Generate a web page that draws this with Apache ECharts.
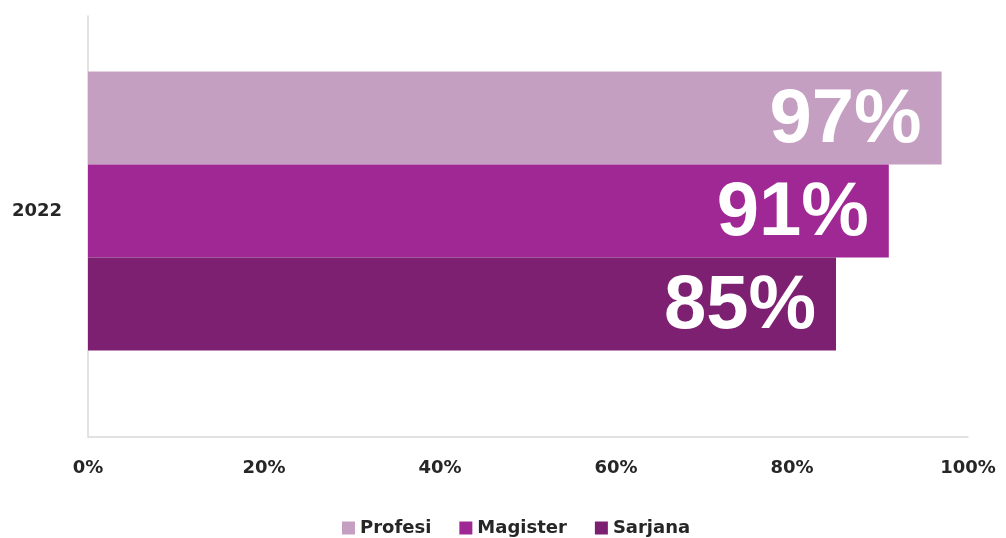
<!DOCTYPE html>
<html>
<head>
<meta charset="utf-8">
<script src="https://cdn.jsdelivr.net/npm/echarts@6/dist/echarts.min.js"></script>
<style>
  html, body { margin: 0; padding: 0; background: #fff; }
  #chart { width: 1006px; height: 538px; }
</style>
</head>
<body>
<div id="chart"></div>
<script>
const categories = ['2022']
const seriesNames = ['Profesi', 'Magister', 'Sarjana']
const profesi = [97]
const magister = [91]
const sarjana = [85]
const xTicks = [0, 20, 40, 60, 80, 100]
const colors = ['#c59fc2', '#a02894', '#7e2071']

const chart = echarts.init(document.getElementById('chart'))

const labelFont = 'DejaVu Sans'
const axisColor = '#d9d9d9'

const option = {
  animation: false,
  color: colors,
  legend: {
    data: seriesNames,
    left: 337,
    top: 514,
    itemWidth: 13,
    itemHeight: 13,
    itemGap: 28,
    icon: 'rect',
    textStyle: { fontFamily: labelFont, fontWeight: 'bold', fontSize: 18, color: '#262626' },
  },
  grid: [
    // bars (band centred a bit above the frame centre, like the original)
    { left: 88, right: 38, top: 0, bottom: 116 },
    // frame: both axis lines and the tick labels
    { left: 88, right: 38, top: 16, bottom: 101 },
  ],
  xAxis: [
    { type: 'value', gridIndex: 0, min: xTicks[0], max: xTicks[xTicks.length - 1], show: false },
    {
      type: 'value',
      gridIndex: 1,
      min: xTicks[0],
      max: xTicks[xTicks.length - 1],
      interval: xTicks[1] - xTicks[0],
      axisLine: { show: true, lineStyle: { color: axisColor, width: 1.5 } },
      axisTick: { show: false },
      splitLine: { show: false },
      axisLabel: {
        formatter: '{value}%',
        margin: 22,
        fontFamily: labelFont,
        fontWeight: 'bold',
        fontSize: 18,
        color: '#262626',
      },
    },
  ],
  yAxis: [
    {
      type: 'category',
      gridIndex: 0,
      inverse: true,
      data: categories,
      axisLine: { show: false },
      axisTick: { show: false },
      axisLabel: {
        margin: 26,
        fontFamily: labelFont,
        fontWeight: 'bold',
        fontSize: 18,
        color: '#262626',
      },
    },
    {
      type: 'category',
      gridIndex: 1,
      data: [''],
      axisLine: { show: true, lineStyle: { color: axisColor, width: 1.5 } },
      axisTick: { show: false },
      axisLabel: { show: false },
    },
  ],
  series: [profesi, magister, sarjana].map((data, i) => {
    return {
      name: seriesNames[i],
      type: 'bar',
      xAxisIndex: 0,
      yAxisIndex: 0,
      data: data,
      barWidth: 93,
      barGap: '0%',
      label: {
        show: true,
        position: 'insideRight',
        distance: 20,
        offset: [0, 3],
        formatter: '{c}%',
        fontFamily: 'Liberation Sans',
        fontWeight: 'bold',
        fontSize: 76,
        color: '#ffffff',
      },
    }
  }),
}

chart.setOption(option)
window.addEventListener('resize', () => chart.resize())
</script>
</body>
</html>
